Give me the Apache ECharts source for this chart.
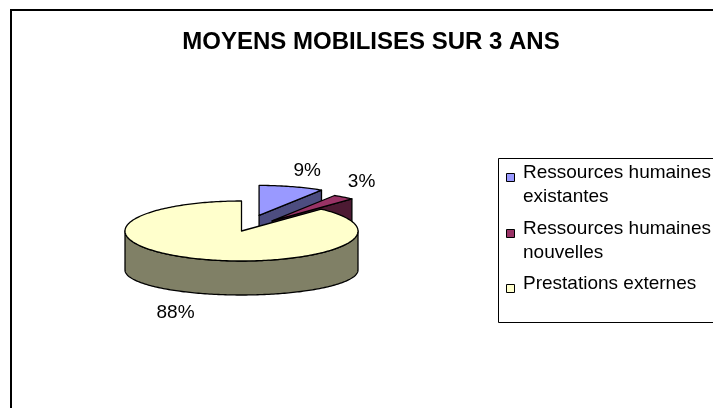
<!DOCTYPE html>
<html>
<head>
<meta charset="utf-8">
<script src="https://cdn.jsdelivr.net/npm/echarts@6/dist/echarts.min.js"></script>
<style>
html,body{margin:0;padding:0;background:#fff;}
#c{width:713px;height:408px;}
</style>
</head>
<body>
<div id="c"></div>
<script>
// ---- data ----
const title = 'MOYENS MOBILISES SUR 3 ANS';
const categories = ['Ressources humaines existantes', 'Ressources humaines nouvelles', 'Prestations externes'];
const values = [9, 3, 88];

// ---- styles ----
const colors = ['#9999FF', '#993366', '#FFFFCC'];
const sideColors = ['#4D4D80', '#4D1A33', '#808066'];
const explode = [63, 50, 0];
const FONT = '"Liberation Sans", Arial, sans-serif';

// pie geometry (layout)
const CX = 241.5, CYT = 231, RX = 116.5, RYT = 30;
const CYB = 270, RYB = 25;
const LABEL_GAP_BACK = 7, LABEL_GAP_FRONT = 11;

const total = values.reduce((a, b) => a + b, 0);
function angles(i) {
  let s = 0;
  for (let j = 0; j < i; j++) s += values[j];
  return [s / total * Math.PI * 2, (s + values[i]) / total * Math.PI * 2];
}
function topPt(t, ox, oy) { return [CX + ox + RX * Math.sin(t), CYT + oy - RYT * Math.cos(t)]; }
function botPt(t, ox, oy) { return [CX + ox + RX * Math.sin(t), CYB + oy - RYB * Math.cos(t)]; }
function arc(fn, a, b, ox, oy) {
  const n = Math.max(2, Math.ceil(Math.abs(b - a) / 0.02));
  const pts = [];
  for (let k = 0; k <= n; k++) pts.push(fn(a + (b - a) * k / n, ox, oy));
  return pts;
}

function renderSlice(params, api) {
  const i = params.seriesIndex;
  const v = api.value(0);
  const [a0, a1] = angles(i);
  const mid = (a0 + a1) / 2;
  const d = explode[i];
  const ox = d * Math.sin(mid), oy = -d * Math.cos(mid) * RYT / RX;
  const stroke = { stroke: '#000', lineWidth: 1.3, lineJoin: 'round' };
  const children = [];
  const base = i * 10;
  const tc = [CX + ox, CYT + oy], bc = [CX + ox, CYB + oy];
  // radial faces
  if (Math.sin(a1) > 1e-6) {
    children.push({ type: 'polygon', z2: base + 1, shape: { points: [tc, topPt(a1, ox, oy), botPt(a1, ox, oy), bc] },
      style: Object.assign({ fill: sideColors[i] }, stroke) });
  }
  if (Math.sin(a0) < -1e-6) {
    children.push({ type: 'polygon', z2: base + 1, shape: { points: [tc, topPt(a0, ox, oy), botPt(a0, ox, oy), bc] },
      style: Object.assign({ fill: sideColors[i] }, stroke) });
  }
  // outer wall (front part)
  const t0 = Math.max(a0, Math.PI / 2), t1 = Math.min(a1, Math.PI * 1.5);
  if (t1 > t0) {
    const pts = arc(topPt, t0, t1, ox, oy).concat(arc(botPt, t1, t0, ox, oy));
    children.push({ type: 'polygon', z2: base + 2, shape: { points: pts },
      style: Object.assign({ fill: sideColors[i] }, stroke) });
  }
  // top face
  const topPts = [tc].concat(arc(topPt, a0, a1, ox, oy));
  children.push({ type: 'polygon', z2: base + 3, shape: { points: topPts },
    style: Object.assign({ fill: colors[i] }, stroke) });
  // label
  const s = Math.sin(mid), c = Math.cos(mid);
  const g = c >= 0 ? LABEL_GAP_BACK : LABEL_GAP_FRONT;
  const lx = CX + ox + (RX + g) * s;
  const ly = c >= 0 ? CYT + oy - (RYT + g) * c : CYB + oy - (RYB + g) * c;
  children.push({ type: 'text', z2: 100, style: {
    x: lx, y: ly, text: Math.round(v / total * 100) + '%',
    align: s >= 0 ? 'left' : 'right', verticalAlign: c >= 0 ? 'bottom' : 'top',
    fill: '#000', font: '19px ' + FONT } });
  return { type: 'group', children: children };
}

const series = categories.map((name, i) => ({
  type: 'custom', name: name, coordinateSystem: 'none',
  itemStyle: { color: colors[i] },
  data: [[values[i]]],
  renderItem: renderSlice,
  animation: false
}));

// legend (drawn from categories / colors)
const legendRows = [173, 229, 284];
const legendEls = [
  { type: 'rect', shape: { x: 498.5, y: 158.5, width: 260, height: 164 },
    style: { fill: '#fff', stroke: '#000', lineWidth: 1 }, z: 10 }
];
categories.forEach((name, i) => {
  legendEls.push({ type: 'rect', shape: { x: 506.5, y: legendRows[i] + 0.5, width: 8, height: 8 },
    style: { fill: colors[i], stroke: '#000', lineWidth: 1 }, z: 11 });
  legendEls.push({ type: 'text', x: 523, y: legendRows[i] - 12, z: 11,
    style: { text: name, width: 200, overflow: 'break', lineHeight: 24,
      font: '19px ' + FONT, fill: '#000', verticalAlign: 'top', align: 'left' } });
});

const chart = echarts.init(document.getElementById('c'), null, { renderer: 'canvas' });
chart.setOption({
  backgroundColor: '#fff',
  animation: false,
  title: {
    text: title, left: 366, top: 25, textAlign: 'center',
    textStyle: { fontFamily: FONT, fontWeight: 'bold', fontSize: 24, color: '#000' }
  },
  graphic: [
    { type: 'rect', shape: { x: 11, y: 10, width: 800, height: 500 },
      style: { fill: 'none', stroke: '#000', lineWidth: 2 }, z: 0, silent: true }
  ].concat(legendEls),
  series: series
});
</script>
</body>
</html>
